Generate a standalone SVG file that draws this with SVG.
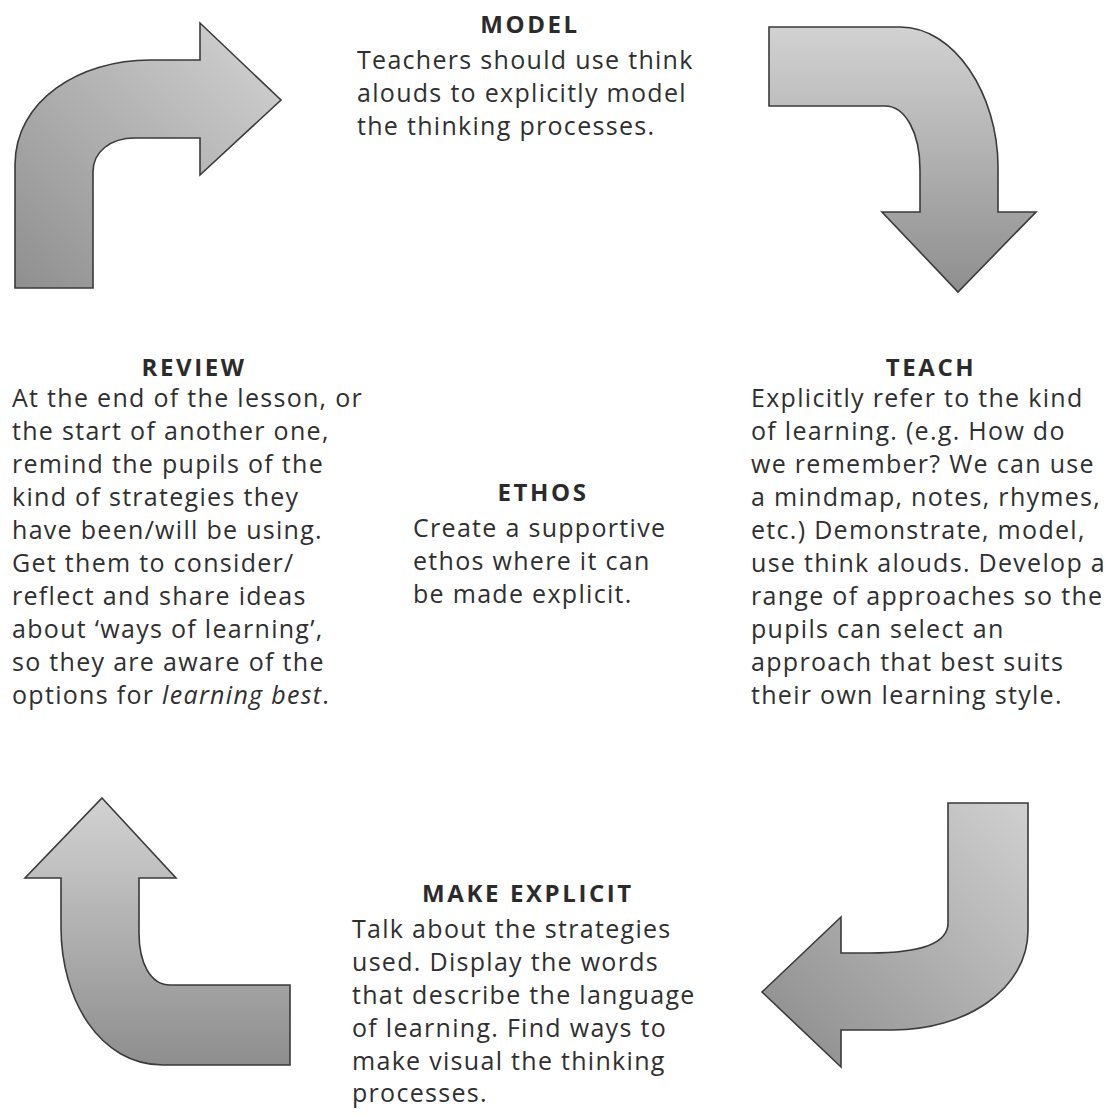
<svg xmlns="http://www.w3.org/2000/svg" width="1115" height="1116" viewBox="0 0 1115 1116">
  <style>
    .arrow { stroke: #3a3a3a; stroke-width: 1.6; stroke-linejoin: miter; }
    .title { font-family: "Open Sans", "Liberation Sans", sans-serif; font-weight: bold; font-size: 24px; letter-spacing: 2.6px; fill: #2b2b2b; text-anchor: middle; }
    .body { font-family: "Open Sans", "Liberation Sans", sans-serif; font-size: 25px; letter-spacing: 1.3px; fill: #2f2f2f; }
  </style>
  <defs>
    <linearGradient id="shadeDown" x1="0" y1="0" x2="0" y2="1">
      <stop offset="0" stop-color="#d2d2d2"/>
      <stop offset="1" stop-color="#8e8e8e"/>
    </linearGradient>
    <linearGradient id="shadeTL" x1="1" y1="0" x2="0" y2="1">
      <stop offset="0" stop-color="#d4d4d4"/>
      <stop offset="1" stop-color="#8f8f8f"/>
    </linearGradient>
    <linearGradient id="shadeBR" x1="1" y1="0" x2="0" y2="1">
      <stop offset="0" stop-color="#d0d0d0"/>
      <stop offset="1" stop-color="#8a8a8a"/>
    </linearGradient>
  </defs>

  <rect width="1115" height="1116" fill="#ffffff"/>

  <!-- curved cycle arrows -->
  <g id="connectors">
    <!-- review -> model -->
    <path class="arrow" fill="url(#shadeTL)" d="M15,288 L15,165 C15,100 80,60 150,60 L200,60 L200,23 L281,100 L200,175 L200,138 L135,138 C110,138 93,152 93,172 L93,288 Z"/>
    <!-- model -> teach -->
    <path class="arrow" fill="url(#shadeDown)" d="M769,27 L900,27 C955,27 998,95 998,167 L998,212 L1036,212 L958,292 L882,212 L920,212 L920,170 C920,132 905,106 885,106 L769,106 Z"/>
    <!-- make explicit -> review -->
    <path class="arrow" fill="url(#shadeDown)" d="M102,798 L176,878 L139,878 L139,933 C139,962 150,985 170,985 L290,985 L290,1065 L163,1065 C100,1065 61,1000 61,927 L61,878 L25,878 Z"/>
    <!-- teach -> make explicit -->
    <path class="arrow" fill="url(#shadeBR)" d="M948,803 L1028,803 L1028,930 C1028,990 965,1030 893,1030 L841,1030 L841,1067 L762,992 L841,917 L841,953 L870,953 C915,953 948,945 948,923 Z"/>
  </g>

  <g id="model">
    <text class="title" x="530" y="33">MODEL</text>
    <text class="body" x="357" y="69">Teachers should use think</text>
    <text class="body" x="357" y="102">alouds to explicitly model</text>
    <text class="body" x="357" y="135">the thinking processes.</text>
  </g>

  <g id="review">
    <text class="title" x="194" y="376">REVIEW</text>
    <text class="body" x="12" y="407">At the end of the lesson, or</text>
    <text class="body" x="12" y="440">the start of another one,</text>
    <text class="body" x="12" y="473">remind the pupils of the</text>
    <text class="body" x="12" y="506">kind of strategies they</text>
    <text class="body" x="12" y="539">have been/will be using.</text>
    <text class="body" x="12" y="572">Get them to consider/</text>
    <text class="body" x="12" y="605">reflect and share ideas</text>
    <text class="body" x="12" y="638">about ‘ways of learning’,</text>
    <text class="body" x="12" y="671">so they are aware of the</text>
    <text class="body" x="12" y="704">options for <tspan font-style="italic">learning best</tspan>.</text>
  </g>

  <g id="ethos">
    <text class="title" x="543" y="501">ETHOS</text>
    <text class="body" x="413" y="537">Create a supportive</text>
    <text class="body" x="413" y="570">ethos where it can</text>
    <text class="body" x="413" y="603">be made explicit.</text>
  </g>

  <g id="teach">
    <text class="title" x="931" y="376">TEACH</text>
    <text class="body" x="751" y="407">Explicitly refer to the kind</text>
    <text class="body" x="751" y="440">of learning. (e.g. How do</text>
    <text class="body" x="751" y="473">we remember? We can use</text>
    <text class="body" x="751" y="506">a mindmap, notes, rhymes,</text>
    <text class="body" x="751" y="539">etc.) Demonstrate, model,</text>
    <text class="body" x="751" y="572">use think alouds. Develop a</text>
    <text class="body" x="751" y="605">range of approaches so the</text>
    <text class="body" x="751" y="638">pupils can select an</text>
    <text class="body" x="751" y="671">approach that best suits</text>
    <text class="body" x="751" y="704">their own learning style.</text>
  </g>

  <g id="make-explicit">
    <text class="title" x="528" y="902">MAKE EXPLICIT</text>
    <text class="body" x="352" y="938">Talk about the strategies</text>
    <text class="body" x="352" y="971">used. Display the words</text>
    <text class="body" x="352" y="1004">that describe the language</text>
    <text class="body" x="352" y="1037">of learning. Find ways to</text>
    <text class="body" x="352" y="1070">make visual the thinking</text>
    <text class="body" x="352" y="1102">processes.</text>
  </g>
</svg>
